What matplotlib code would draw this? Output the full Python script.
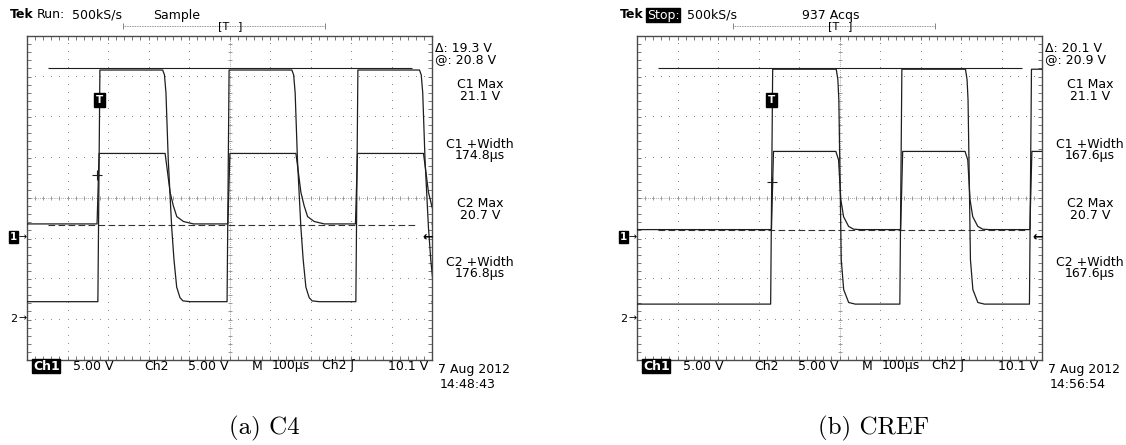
import numpy as np
import matplotlib
matplotlib.use("Agg")
import matplotlib.pyplot as plt
from matplotlib.transforms import blended_transform_factory

W, H, DPI = 1126, 445, 100

# Scope settings: 100 us/div horizontally (10 div), 5 V/div vertically (8 div)
T_DIV = 100.0
V_DIV = 5.0
# Channel ground positions, in divisions from the screen centre
ch1_pos = -0.96
ch2_pos = -2.98
trig_level = 10.1          # Ch2 rising-edge trigger level (V)

# ---------------- (a) C4 ----------------
a_ch1_rise = [175, 494, 812]
a_ch1_fall = [335, 654, 969]
a_ch1_lo, a_ch1_hi = -8.0, 20.6
a_ch1_fall_dt = [0, 4.4, 8.1, 13.8, 22.2, 27.9, 34.6, 42.7, 50.1, 67.4]
a_ch1_fall_v = [20.6, 20.0, 17.8, 9.5, 1.2, -2.8, -6.2, -7.5, -7.9, -8.0]

a_ch2_rise = [173, 496, 811]
a_ch2_fall = [341, 664, 979]
a_ch2_lo, a_ch2_hi = 11.7, 20.4
a_ch2_fall_dt = [0, 4.2, 12.3, 20.5, 28.9, 45.2, 69.9]
a_ch2_fall_v = [20.4, 18.8, 15.6, 13.9, 12.6, 12.0, 11.7]

a_cursor_at, a_cursor_delta = 20.8, 19.3
a_trig_t = 178
a_mark_t, a_mark_v = 173, 2.84
a_measure = ["19.3 V", "20.8 V", "21.1 V", "174.8\u00b5s", "20.7 V", "176.8\u00b5s"]
a_stamp = ["7 Aug 2012", "14:48:43"]

# ---------------- (b) CREF ----------------
b_ch1_rise = [330, 649, 969]
b_ch1_fall = [492, 811]
b_ch1_lo, b_ch1_hi = -8.3, 20.7
b_ch1_fall_dt = [0, 4.0, 6.4, 9.9, 12.3, 18.3, 30.6, 46.9]
b_ch1_fall_v = [20.7, 19.4, 16.9, 5.4, -2.8, -6.5, -8.1, -8.3]

b_ch2_rise = [332, 651, 970]
b_ch2_fall = [491, 810]
b_ch2_lo, b_ch2_hi = 11.0, 20.65
b_ch2_fall_dt = [0, 6.7, 12.3, 19.0, 31.4, 43.7, 59.3]
b_ch2_fall_v = [20.65, 19.6, 14.7, 12.6, 11.4, 11.05, 11.0]

b_cursor_at, b_cursor_delta = 20.9, 20.1
b_trig_t = 333
b_mark_t, b_mark_v = 333, 2.0
b_measure = ["20.1 V", "20.9 V", "21.1 V", "167.6\u00b5s", "20.7 V", "167.6\u00b5s"]
b_stamp = ["7 Aug 2012", "14:56:54"]

RISE_DT = 5.0
TRACE = "#1e1e1e"
GRID = "#8a8a8a"
FONT = "DejaVu Sans"
FS = 9


def build_trace(rises, falls, lo, hi, fall_dt, fall_v, pos):
    events = sorted([(t, "r") for t in rises] + [(t, "f") for t in falls])
    level = lo if events[0][1] == "r" else hi
    ts, vs = [0.0], [level]
    for t, kind in events:
        if kind == "r":
            ts += [t, t + RISE_DT]
            vs += [lo, hi]
        else:
            ts += [t + d for d in fall_dt]
            vs += list(fall_v)
    ts.append(1000.0)
    vs.append(vs[-1])
    return np.array(ts), np.array(vs) + pos * V_DIV


def graticule(ax):
    ax.set_xlim(0, 10 * T_DIV)
    ax.set_ylim(-4 * V_DIV, 4 * V_DIV)
    xs = np.arange(0, 10 * T_DIV + 0.1, T_DIV / 5)
    ys = np.arange(-4 * V_DIV, 4 * V_DIV + 0.1, V_DIV / 5)
    for k in range(1, 10):
        if k == 5:
            continue
        ax.plot(np.full_like(ys, k * T_DIV), ys, ",", color=GRID, zorder=1)
    for k in range(-3, 4):
        if k == 0:
            continue
        ax.plot(xs, np.full_like(xs, k * V_DIV), ",", color=GRID, zorder=1)
    # centre cross with minor-division ticks
    ax.axhline(0, color=GRID, lw=0.6, ls=(0, (1, 1.5)), zorder=1)
    ax.axvline(5 * T_DIV, color=GRID, lw=0.6, ls=(0, (1, 1.5)), zorder=1)
    ax.plot(xs, np.zeros_like(xs), "|", color=GRID, ms=3.5, mew=0.6, zorder=1)
    ax.plot(np.full_like(ys, 5 * T_DIV), ys, "_", color=GRID, ms=3.5, mew=0.6, zorder=1)
    ax.set_xticks(xs)
    ax.set_yticks(ys)
    ax.tick_params(direction="in", length=3, width=0.6, color="#606060",
                   top=True, right=True, labelbottom=False, labelleft=False)
    for s in ax.spines.values():
        s.set_color("#4a4a4a")
        s.set_linewidth(1.0)


def ftext(fig, x, y, s, **kw):
    kw.setdefault("fontsize", FS)
    kw.setdefault("family", FONT)
    kw.setdefault("va", "center")
    return fig.text(x / W, 1 - y / H, s, **kw)


def scope(fig, dx, ch1, ch2, cursor_at, cursor_delta, trig_t, mark, measure,
          stamp, status, status_box, acq):
    ax = fig.add_axes([(27 + dx) / W, (H - 360) / H, 405 / W, 324 / H])
    graticule(ax)

    # waveforms
    for args, pos in ((ch1, ch1_pos), (ch2, ch2_pos)):
        t, v = build_trace(*args, pos)
        ax.plot(t, v, color=TRACE, lw=0.9, zorder=3, solid_joinstyle="round")

    # horizontal bar cursors on Ch1
    ax.hlines(cursor_at + ch1_pos * V_DIV, 52, 950, color=TRACE, lw=0.8, zorder=2)
    ax.hlines(cursor_at - cursor_delta + ch1_pos * V_DIV, 52, 965,
              color="#333333", lw=0.8, ls=(0, (6, 3)), zorder=2)

    # trigger point markers
    ax.text(trig_t, 12.1, "T", color="white", fontsize=7.5, family=FONT,
            fontweight="bold", ha="center", va="center", zorder=5,
            bbox=dict(boxstyle="square,pad=0.18", fc="black", ec="black"))
    ax.plot([mark[0]], [mark[1]], "+", color=TRACE, ms=7, mew=0.8, zorder=4)

    # channel ground markers and trigger level arrow
    tr = blended_transform_factory(ax.transAxes, ax.transData)
    ax.text(-0.033, ch1_pos * V_DIV, "1", transform=tr, color="white",
            fontsize=7.5, family=FONT, fontweight="bold", ha="center",
            va="center", clip_on=False, zorder=4,
            bbox=dict(boxstyle="square,pad=0.1", fc="black", ec="black"))
    ax.text(-0.033, ch2_pos * V_DIV, "2", transform=tr, color="black",
            fontsize=8, family=FONT, ha="center", va="center", clip_on=False)
    for gpos in (ch1_pos, ch2_pos):
        ax.text(-0.011, gpos * V_DIV, "\u2192", transform=tr, fontsize=7,
                family=FONT, ha="center", va="center", clip_on=False, zorder=6)
    ax.text(0.99, trig_level + ch2_pos * V_DIV, "\u2190", transform=tr,
            fontsize=9, fontweight="bold", family=FONT, ha="center",
            va="center", clip_on=False)

    # record-view bracket above the screen
    ax.plot([0.237, 0.737], [1.031, 1.031], transform=ax.transAxes,
            color="#707070", lw=0.6, ls=(0, (1, 1)), clip_on=False)
    ax.plot([0.237, 0.737], [1.031, 1.031], "|", transform=ax.transAxes,
            color="#707070", ms=5, mew=0.6, clip_on=False)
    ax.text(0.485, 1.031, "[T", transform=ax.transAxes, fontsize=8,
            family=FONT, ha="center", va="center", clip_on=False)
    ax.text(0.526, 1.031, "]", transform=ax.transAxes, fontsize=8,
            family=FONT, ha="center", va="center", clip_on=False)

    # header line
    ftext(fig, 10 + dx, 15, "Tek", fontweight="bold")
    if status_box:
        ftext(fig, 37 + dx, 15, status, color="white",
              bbox=dict(boxstyle="square,pad=0.05", fc="black", ec="black"))
    else:
        ftext(fig, 37 + dx, 15, status)
    ftext(fig, (72 if not status_box else 77) + dx, 15, "500kS/s")
    ftext(fig, acq[1] + dx, 15, acq[0])

    # measurement column
    cx = 480 + dx
    ftext(fig, 435 + dx, 48, "\u0394: " + measure[0])
    ftext(fig, 435 + dx, 60, "@: " + measure[1])
    rows = [("C1 Max", 85), (measure[2], 97), ("C1 +Width", 144), (measure[3], 156),
            ("C2 Max", 203), (measure[4], 215), ("C2 +Width", 262), (measure[5], 274)]
    for s, y in rows:
        ftext(fig, cx, y, s, ha="center")
    ftext(fig, 438 + dx, 369, stamp[0])
    ftext(fig, 440 + dx, 384, stamp[1])

    # bottom status line
    ftext(fig, 33 + dx, 366, "Ch1", color="white", fontweight="bold",
          bbox=dict(boxstyle="square,pad=0.05", fc="black", ec="black"))
    ftext(fig, 73 + dx, 366, "5.00 V")
    ftext(fig, 144 + dx, 366, "Ch2")
    ftext(fig, 188 + dx, 366, "5.00 V")
    ftext(fig, 252 + dx, 366, "M")
    ftext(fig, 272 + dx, 366, "100\u00b5s")
    ftext(fig, 322 + dx, 366, "Ch2 \u0283")
    ftext(fig, 388 + dx, 366, "%.1f V" % trig_level)
    return ax


fig = plt.figure(figsize=(W / DPI, H / DPI), dpi=DPI)

scope(fig, 0,
      (a_ch1_rise, a_ch1_fall, a_ch1_lo, a_ch1_hi, a_ch1_fall_dt, a_ch1_fall_v),
      (a_ch2_rise, a_ch2_fall, a_ch2_lo, a_ch2_hi, a_ch2_fall_dt, a_ch2_fall_v),
      a_cursor_at, a_cursor_delta, a_trig_t, (a_mark_t, a_mark_v),
      a_measure, a_stamp, "Run:", False, ("Sample", 153))

scope(fig, 610,
      (b_ch1_rise, b_ch1_fall, b_ch1_lo, b_ch1_hi, b_ch1_fall_dt, b_ch1_fall_v),
      (b_ch2_rise, b_ch2_fall, b_ch2_lo, b_ch2_hi, b_ch2_fall_dt, b_ch2_fall_v),
      b_cursor_at, b_cursor_delta, b_trig_t, (b_mark_t, b_mark_v),
      b_measure, b_stamp, "Stop:", True, ("937 Acqs", 192))

# subfigure captions
fig.text(264 / W, 1 - 428 / H, "(a) C4", family="cmr10", fontsize=18,
         ha="center", va="center")
fig.text(874 / W, 1 - 428 / H, "(b) CREF", family="cmr10", fontsize=18,
         ha="center", va="center")

fig.savefig("out.png", dpi=DPI)
